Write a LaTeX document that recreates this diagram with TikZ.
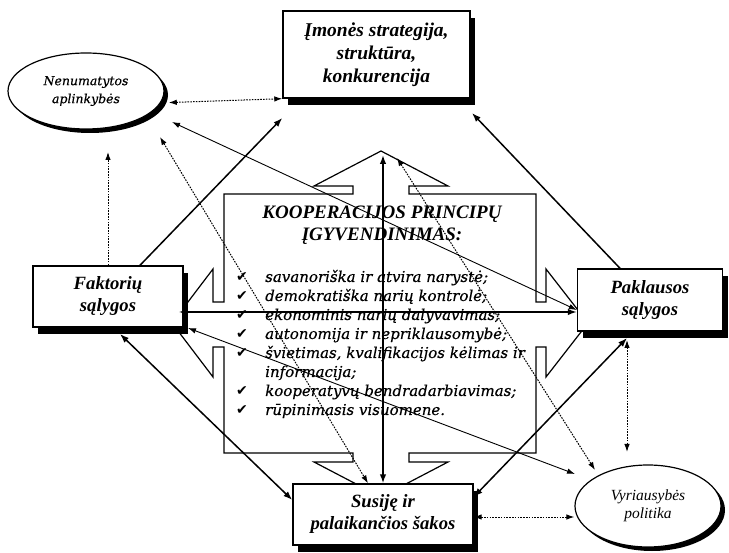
\documentclass[tikz,border=0pt]{standalone}
\usepackage{fontspec}
\setmainfont{Liberation Serif}
\newfontfamily\dvserif{DejaVu Serif}[ItalicFeatures={FakeBold=0.35}]
\newfontfamily\dvsans{DejaVu Sans}
\usetikzlibrary{arrows.meta,shapes.geometric,shadows}
\begin{document}
\begin{tikzpicture}[x=1pt,y=-1pt,
  box/.style={draw, line width=1.4pt, fill=white, inner sep=0pt, align=center,
    font=\bfseries\itshape\fontsize{18.7}{22}\selectfont,
    drop shadow={shadow xshift=5pt, shadow yshift=-7pt, fill=black, opacity=1}},
  oval/.style={ellipse, draw, line width=1.2pt, fill=white, inner sep=0pt, align=center,
    drop shadow={shadow xshift=4pt, shadow yshift=-4pt, fill=black, opacity=1}},
  listtxt/.style={anchor=base west, inner sep=0pt, font=\dvserif\itshape\fontsize{15}{18}\selectfont},
  chk/.style={anchor=base, inner sep=0pt, font=\dvsans\fontsize{14}{16}\selectfont},
  solidcon/.style={line width=1.5pt, {Latex[length=9pt,width=6.5pt]}-{Latex[length=9pt,width=6.5pt]}},
  solidone/.style={line width=1.5pt, -{Latex[length=9pt,width=6.5pt]}},
  thincon/.style={line width=0.9pt, {Latex[length=8pt,width=5.5pt]}-{Latex[length=8pt,width=5.5pt]}},
  dotcon/.style={line width=1pt, dash pattern=on 1.6pt off 1.2pt, {Latex[length=8pt,width=5.5pt]}-{Latex[length=8pt,width=5.5pt]}},
  dotone/.style={line width=1pt, dash pattern=on 1.6pt off 1.2pt, -{Latex[length=8pt,width=5.5pt]}}
]
\useasboundingbox (0,0) rectangle (729,553);

% central four-way arrow
\draw[line width=1.2pt, fill=white]
  (224,194) -- (353,194) -- (353,186) -- (314,186) -- (381,151) -- (448,186) -- (409,186) -- (409,194) -- (536,194)
  -- (536,302) -- (546,302) -- (546,269) -- (588,323) -- (546,377) -- (546,347) -- (536,347)
  -- (536,453) -- (409,453) -- (409,462) -- (448,462) -- (381,497) -- (314,462) -- (353,462) -- (353,453) -- (224,453)
  -- (224,347) -- (213,347) -- (213,377) -- (172,323) -- (213,269) -- (213,302) -- (224,302) -- cycle;

\node[align=center, inner sep=0pt, font=\bfseries\itshape\fontsize{19}{22}\selectfont] (ttl) at (382,225)
  {KOOPERACIJOS PRINCIPŲ\\ĮGYVENDINIMAS:};

\node[chk] (c1) at (242,282) {✔};
\node[chk] (c2) at (242,301) {✔};
\node[chk] (c3) at (242,320) {✔};
\node[chk] (c4) at (242,339) {✔};
\node[chk] (c5) at (242,358) {✔};
\node[chk] (c7) at (242,396) {✔};
\node[chk] (c8) at (242,415) {✔};
\node[listtxt] (l1) at (265,282) {savanoriška ir atvira narystė;};
\node[listtxt] (l2) at (265,301) {demokratiška narių kontrolė;};
\node[listtxt] (l3) at (265,320) {ekonominis narių dalyvavimas;};
\node[listtxt] (l4) at (265,339) {autonomija ir nepriklausomybė;};
\node[listtxt] (l5) at (265,358) {švietimas, kvalifikacijos kėlimas ir};
\node[listtxt] (l6) at (265,377) {informacija;};
\node[listtxt] (l7) at (265,396) {kooperatyvų bendradarbiavimas;};
\node[listtxt] (l8) at (265,415) {rūpinimasis visuomene.};

% boxes and ellipses
\node[box, minimum width=187pt, minimum height=87pt, font=\bfseries\itshape\fontsize{19.5}{23}\selectfont] (imo) at (376.5,54.5)
  {Įmonės strategija,\\struktūra,\\konkurencija};
\node[box, minimum width=150pt, minimum height=61pt] (fak) at (108,296.5) {Faktorių\\sąlygos};
\node[box, minimum width=145pt, minimum height=62pt] (pak) at (650,300) {Paklausos\\sąlygos};
\node[box, minimum width=180pt, minimum height=61pt] (sus) at (383,514.5) {Susiję ir\\palaikančios šakos};
\node[oval, minimum width=156pt, minimum height=76pt,
  font=\dvserif\itshape\fontsize{12.5}{18}\selectfont] (nen) at (86,91) {Nenumatytos\\aplinkybės};
\node[oval, minimum width=146pt, minimum height=82pt,
  font=\itshape\fontsize{15.5}{18}\selectfont] (vyr) at (648,506) {Vyriausybės\\politika};

% free ends
\coordinate (n4) at (172,122);
\coordinate (n5) at (160,137);
\coordinate (t6) at (397,158);
\coordinate (v6) at (595,470);
\coordinate (t7) at (383,155);
\coordinate (f9) at (188,328);
\coordinate (v9) at (575,474);
\coordinate (f10) at (120,334);
\coordinate (p11) at (627,338);
\coordinate (p12) at (627,340);
\coordinate (v12) at (627,452);
\coordinate (i14) at (472,113);

% connectors
\draw[dotcon, shorten <=8pt] (nen.-9) -- (imo.south west);
\draw[dotone] (fak.north) -- (fak.north |- 0,152);
\draw[solidone] (fak.north -| 140,0) -- (imo.south west |- 0,118);
\draw[thincon] (n4) -- (pak.west |- 0,310);
\draw[dotcon] (n5) -- (sus.north -| 368,0);
\draw[dotcon] (t6) -- (v6);
\draw[solidcon] (sus.north) -- (t7);
\draw[solidcon, shorten <=-5pt] (fak.east |- 0,312) -- (pak.west |- 0,312);
\draw[thincon] (f9) -- (v9);
\draw[solidcon] (f10) -- (sus.west |- 0,500);
\draw[solidcon] (p11) -- (sus.east |- 0,497);
\draw[dotcon] (p12) -- (v12);
\draw[dotcon] (sus.east |- 0,517) -- (vyr.west |- 0,517);
\draw[solidone] (pak.north -| 620,0) -- (i14);
\end{tikzpicture}
\end{document}
